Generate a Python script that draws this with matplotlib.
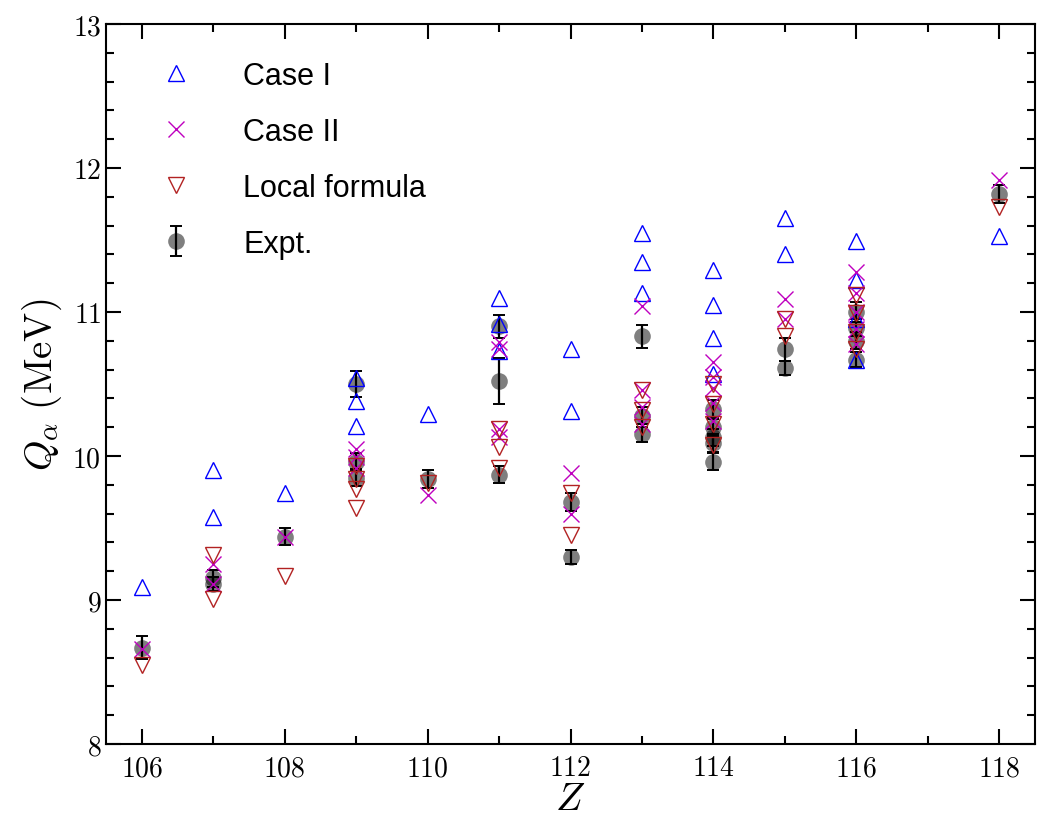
import matplotlib
matplotlib.use('Agg')
import matplotlib.pyplot as plt
from matplotlib.ticker import MultipleLocator

plt.rcParams['font.family'] = 'serif'
plt.rcParams['font.serif'] = ['cmr10', 'DejaVu Serif']
plt.rcParams['mathtext.fontset'] = 'cm'
plt.rcParams['axes.formatter.use_mathtext'] = True

# Case I
case1_z = [106, 107, 107, 108, 109, 109, 109, 110, 111, 111, 111, 112, 112,
           113, 113, 113, 114, 114, 114, 114, 115, 115, 116, 116, 116, 116, 118]
case1_q = [9.09, 9.90, 9.58, 9.74, 10.54, 10.38, 10.21, 10.29, 11.10, 10.92, 10.73,
           10.74, 10.31, 11.55, 11.35, 11.13, 11.29, 11.05, 10.82, 10.57,
           11.65, 11.40, 11.49, 11.22, 10.95, 10.67, 11.53]

# Case II
case2_z = [106, 107, 107, 108, 109, 109, 109, 110, 111, 111, 111, 111, 112, 112,
           113, 113, 113, 113, 114, 114, 114, 114, 114, 115, 115,
           116, 116, 116, 116, 116, 118]
case2_q = [8.66, 9.25, 9.11, 9.44, 10.05, 9.99, 9.92, 9.73, 10.79, 10.74, 10.19, 10.13,
           9.88, 9.60, 11.04, 10.46, 10.34, 10.22, 10.65, 10.55, 10.47, 10.37, 10.24,
           11.09, 10.95, 11.28, 11.13, 11.00, 10.88, 10.78, 11.92]

# Local formula
local_z = [106, 107, 107, 108, 109, 109, 109, 109, 110, 111, 111, 111, 112, 112,
           113, 113, 113, 114, 114, 114, 114, 115, 115, 116, 116, 116, 116, 118]
local_q = [8.55, 9.31, 9.01, 9.17, 9.93, 9.84, 9.77, 9.64, 9.81, 10.19, 10.06, 9.92,
           9.74, 9.45, 10.46, 10.32, 10.20, 10.50, 10.36, 10.22, 10.08,
           10.95, 10.83, 11.12, 10.99, 10.86, 10.74, 11.73]

# Experiment
expt_z = [106, 107, 107, 108, 109, 109, 109, 110, 111, 111, 111, 112, 112,
          113, 113, 113, 114, 114, 114, 114, 114, 115, 115, 116, 116, 116, 116, 118]
expt_q = [8.67, 9.15, 9.11, 9.44, 10.50, 9.96, 9.85, 9.84, 10.90, 10.52, 9.87,
          9.68, 9.30, 10.83, 10.28, 10.15, 10.33, 10.20, 10.13, 10.09, 9.96,
          10.74, 10.61, 11.00, 10.89, 10.80, 10.67, 11.82]
expt_err = [0.08, 0.06, 0.05, 0.06, 0.09, 0.06, 0.06, 0.06, 0.08, 0.16, 0.06,
            0.06, 0.05, 0.08, 0.06, 0.05, 0.06, 0.06, 0.06, 0.06, 0.06,
            0.08, 0.05, 0.07, 0.06, 0.06, 0.05, 0.06]

fig = plt.figure(figsize=(10.51, 8.28), dpi=100)
ax = fig.add_axes([0.1009, 0.1002, 0.8839, 0.8696])

eb = ax.errorbar(expt_z, expt_q, yerr=expt_err, fmt='o', ms=12,
                 mfc=(0, 0, 0, 0.5), mec='none', ecolor='k',
                 elinewidth=1.6, capsize=4.5, capthick=1.4, zorder=2)
eb.lines[0].set_zorder(1.5)

l1, = ax.plot(case1_z, case1_q, '^', ms=12, mfc='none', mec='b', mew=1.0, ls='none', zorder=3)
l2, = ax.plot(case2_z, case2_q, 'x', ms=12, color='m', mew=1.0, ls='none', zorder=3)
l3, = ax.plot(local_z, local_q, 'v', ms=12, mfc='none', mec='#b22222', mew=1.0, ls='none', zorder=3)

ax.set_xlim(105.5, 118.5)
ax.set_ylim(8, 13)
ax.xaxis.set_major_locator(MultipleLocator(2))
ax.xaxis.set_minor_locator(MultipleLocator(1))
ax.yaxis.set_major_locator(MultipleLocator(1))
ax.yaxis.set_minor_locator(MultipleLocator(0.2))
ax.tick_params(which='both', direction='in', top=True, right=True, labelsize=20, width=1.5)
ax.tick_params(which='major', length=11)
ax.tick_params(which='minor', length=6)
ax.tick_params(axis='x', pad=8)
for s in ax.spines.values():
    s.set_linewidth(1.5)

ax.set_xlabel(r'$Z$', fontsize=28, labelpad=0)
ax.set_ylabel(r'$Q_\alpha\ (\mathrm{MeV})$', fontsize=28, labelpad=6)

ax.legend([l1, l2, l3, eb], ['Case I', 'Case II', 'Local formula', 'Expt.'],
          loc='upper left', frameon=False, numpoints=1,
          prop={'family': 'Liberation Sans', 'size': 22},
          labelspacing=0.85, handletextpad=1.2, borderaxespad=0.8,
          bbox_to_anchor=(0.003, 1.0))

fig.savefig('out.png', dpi=100)
